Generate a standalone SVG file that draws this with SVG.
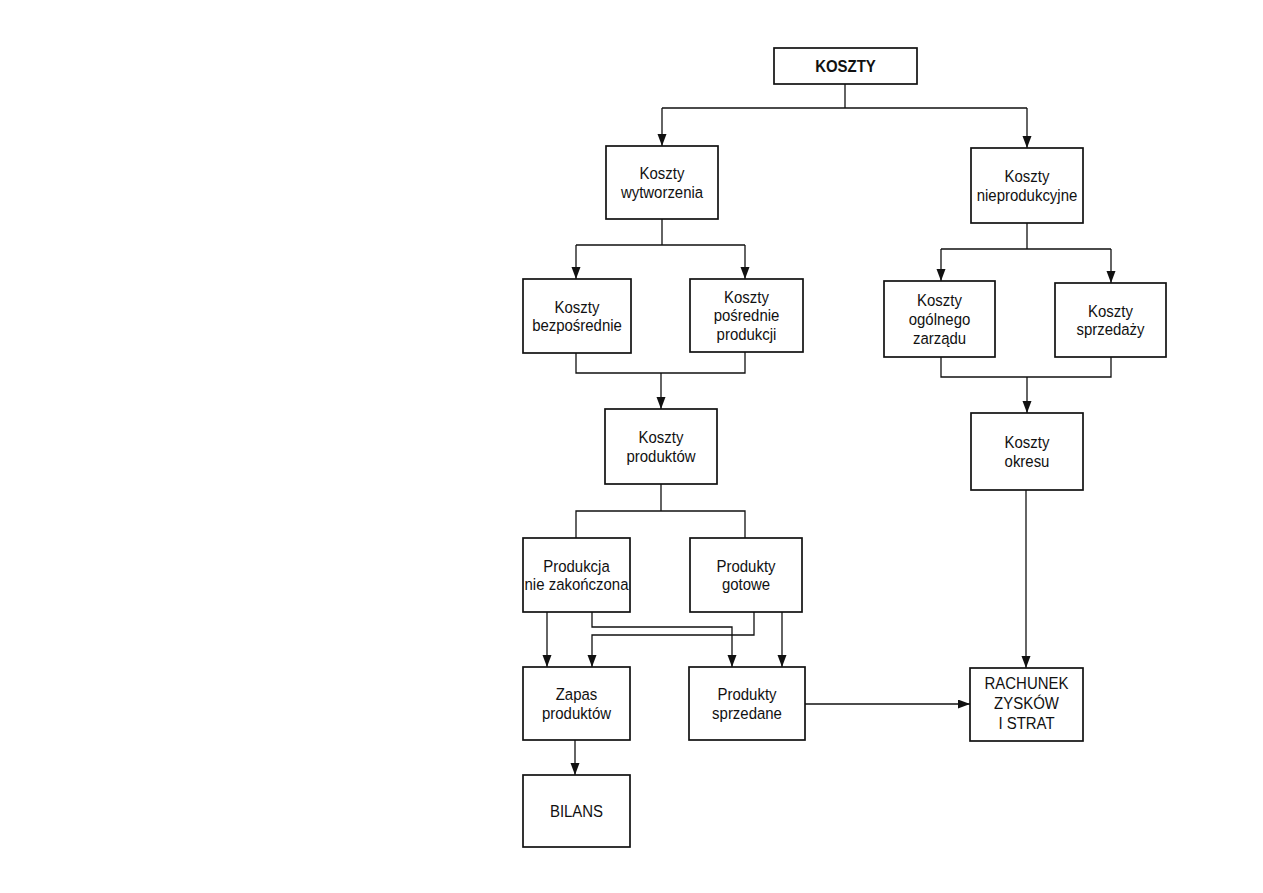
<svg xmlns="http://www.w3.org/2000/svg" width="1263" height="893" viewBox="0 0 1263 893">
<defs>
<marker id="arr" markerUnits="userSpaceOnUse" markerWidth="13" markerHeight="10" refX="12" refY="4.5" orient="auto">
<path d="M0,0 L12,4.5 L0,9 z" fill="#111"/>
</marker>
<style>
.box{fill:#fff;stroke:#111;stroke-width:1.7}
.ln{fill:none;stroke:#111;stroke-width:1.3}
.ar{fill:none;stroke:#111;stroke-width:1.3;marker-end:url(#arr)}
.t{font-family:"Liberation Sans",Arial,sans-serif;font-size:17px;fill:#111;text-anchor:middle}
.b{font-weight:bold}
</style>
</defs>
<rect width="1263" height="893" fill="#fff"/>
<g id="connectors">
<path class="ln" d="M845,84 V108 M662,108 H1027"/>
<path class="ar" d="M662,108 V146"/>
<path class="ar" d="M1027,108 V148"/>
<path class="ln" d="M662,219 V245 M576,245 H745"/>
<path class="ar" d="M576,245 V279"/>
<path class="ar" d="M745,245 V279"/>
<path class="ln" d="M576,353 V373 H745 V352"/>
<path class="ar" d="M661,373 V409"/>
<path class="ln" d="M661,484 V511 M576,538 V511 H745 V538"/>
<path class="ln" d="M1027,223 V249 M941,249 H1111"/>
<path class="ar" d="M941,249 V281"/>
<path class="ar" d="M1111,249 V283"/>
<path class="ln" d="M941,357 V377 H1111 V357"/>
<path class="ar" d="M1027,377 V413"/>
<path class="ar" d="M1026,490 V668"/>
<path class="ar" d="M547,612 V667"/>
<path class="ar" d="M592,612 V627 H732 V667"/>
<path class="ar" d="M754,612 V635 H592 V667"/>
<path class="ar" d="M782,612 V667"/>
<path class="ar" d="M805,704 H970"/>
<path class="ar" d="M575,740 V775"/>
</g>
<g id="koszty">
<rect class="box" x="774" y="48" width="143" height="36"/>
<text class="t b" transform="translate(845.5,72) scale(0.88,1)">KOSZTY</text>
</g>
<g id="koszty-wytworzenia">
<rect class="box" x="606" y="146" width="112" height="73"/>
<text class="t" transform="translate(662,179) scale(0.88,1)"><tspan x="0" y="0">Koszty</tspan><tspan x="0" y="19">wytworzenia</tspan></text>
</g>
<g id="koszty-nieprodukcyjne">
<rect class="box" x="971" y="148" width="112" height="75"/>
<text class="t" transform="translate(1027,182) scale(0.88,1)"><tspan x="0" y="0">Koszty</tspan><tspan x="0" y="19">nieprodukcyjne</tspan></text>
</g>
<g id="koszty-bezposrednie">
<rect class="box" x="523" y="279" width="108" height="74"/>
<text class="t" transform="translate(577,312.5) scale(0.88,1)"><tspan x="0" y="0">Koszty</tspan><tspan x="0" y="19">bezpośrednie</tspan></text>
</g>
<g id="koszty-posrednie">
<rect class="box" x="690" y="279" width="113" height="73"/>
<text class="t" transform="translate(746.5,302.5) scale(0.88,1)"><tspan x="0" y="0">Koszty</tspan><tspan x="0" y="19">pośrednie</tspan><tspan x="0" y="38">produkcji</tspan></text>
</g>
<g id="koszty-ogolnego-zarzadu">
<rect class="box" x="884" y="281" width="111" height="76"/>
<text class="t" transform="translate(939.5,306) scale(0.88,1)"><tspan x="0" y="0">Koszty</tspan><tspan x="0" y="19">ogólnego</tspan><tspan x="0" y="38">zarządu</tspan></text>
</g>
<g id="koszty-sprzedazy">
<rect class="box" x="1055" y="283" width="111" height="74"/>
<text class="t" transform="translate(1110.5,316.5) scale(0.88,1)"><tspan x="0" y="0">Koszty</tspan><tspan x="0" y="19">sprzedaży</tspan></text>
</g>
<g id="koszty-produktow">
<rect class="box" x="605" y="409" width="112" height="75"/>
<text class="t" transform="translate(661,443) scale(0.88,1)"><tspan x="0" y="0">Koszty</tspan><tspan x="0" y="19">produktów</tspan></text>
</g>
<g id="koszty-okresu">
<rect class="box" x="971" y="413" width="112" height="77"/>
<text class="t" transform="translate(1027,448) scale(0.88,1)"><tspan x="0" y="0">Koszty</tspan><tspan x="0" y="19">okresu</tspan></text>
</g>
<g id="produkcja-nie-zakonczona">
<rect class="box" x="523" y="538" width="107" height="74"/>
<text class="t" transform="translate(576.5,571.5) scale(0.88,1)"><tspan x="0" y="0">Produkcja</tspan><tspan x="0" y="19">nie zakończona</tspan></text>
</g>
<g id="produkty-gotowe">
<rect class="box" x="690" y="538" width="112" height="74"/>
<text class="t" transform="translate(746,571.5) scale(0.88,1)"><tspan x="0" y="0">Produkty</tspan><tspan x="0" y="19">gotowe</tspan></text>
</g>
<g id="zapas-produktow">
<rect class="box" x="523" y="667" width="107" height="73"/>
<text class="t" transform="translate(576.5,700) scale(0.88,1)"><tspan x="0" y="0">Zapas</tspan><tspan x="0" y="19">produktów</tspan></text>
</g>
<g id="produkty-sprzedane">
<rect class="box" x="689" y="667" width="116" height="73"/>
<text class="t" transform="translate(747,700) scale(0.88,1)"><tspan x="0" y="0">Produkty</tspan><tspan x="0" y="19">sprzedane</tspan></text>
</g>
<g id="rachunek-zyskow-i-strat">
<rect class="box" x="970" y="668" width="113" height="73"/>
<text class="t" transform="translate(1026.5,689) scale(0.88,1)"><tspan x="0" y="0">RACHUNEK</tspan><tspan x="0" y="20">ZYSKÓW</tspan><tspan x="0" y="40">I STRAT</tspan></text>
</g>
<g id="bilans">
<rect class="box" x="523" y="775" width="107" height="72"/>
<text class="t" transform="translate(576.5,817) scale(0.88,1)">BILANS</text>
</g>
</svg>
